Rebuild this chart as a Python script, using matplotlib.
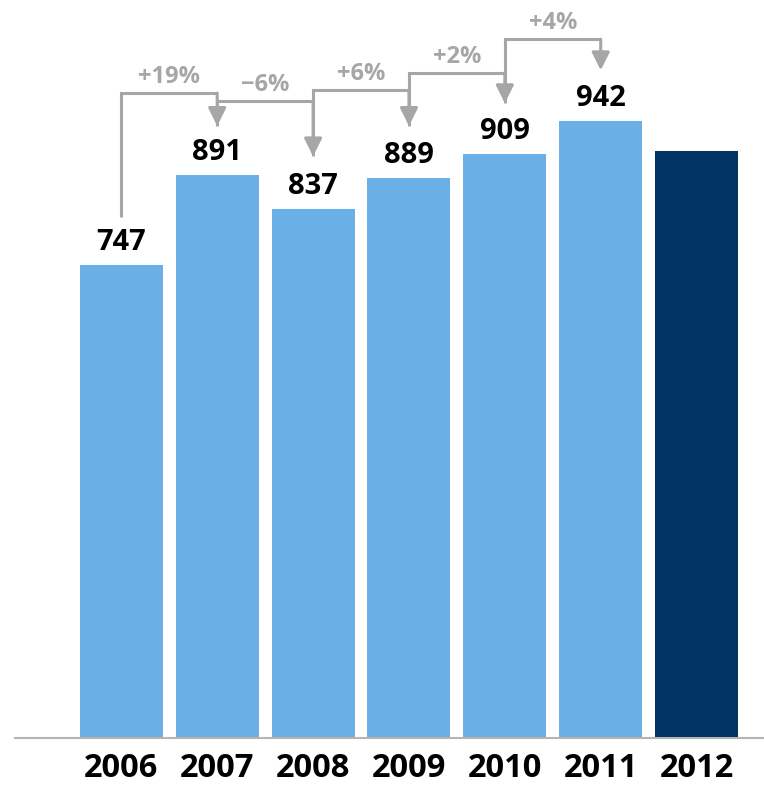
import numpy as np
import matplotlib.pyplot as plt

# data
years = ['2006', '2007', '2008', '2009', '2010', '2011', '2012']
value_labels = [747, 891, 837, 889, 909, 942, None]
# bar heights as drawn in the picture (not quite proportional to the labels)
bar_heights = [747, 889, 836, 885, 922, 975, 927]
bar_colors = ['#6AB0E6'] * 6 + ['#003462']

# connector layout (data units): horizontal level and arrow tip of each step
bracket_y = [1019, 1006, 1024, 1051, 1104]
tip_y = [967, 919, 967, 1003, 1055]
first_start = 823

gray = '#A6A6A6'
plt.rcParams['font.family'] = ['Open Sans', 'DejaVu Sans']

fig = plt.figure(figsize=(7.64, 7.85), dpi=100)
ax = fig.add_axes([15 / 764, 47 / 785, 749 / 764, 738 / 785])

x = np.arange(len(years))
ax.bar(x, bar_heights, width=0.865, color=bar_colors, zorder=2)

ax.set_xlim(-1.109, 6.703)
ax.set_ylim(0, 1166)

for s in ['top', 'left', 'right']:
    ax.spines[s].set_visible(False)
ax.spines['bottom'].set_color('#B4B4B4')
ax.spines['bottom'].set_linewidth(1.5)
ax.set_xticks([])
ax.set_yticks([])

# value labels
for i, v in enumerate(value_labels):
    if v is not None:
        ax.annotate(str(v), xy=(i, bar_heights[i]), xytext=(0, 15),
                    textcoords='offset pixels', ha='center', va='baseline',
                    fontsize=21, fontweight='bold', color='black')

# year labels
for i, y in enumerate(years):
    ax.annotate(y, xy=(i, 0), xytext=(0, -39), textcoords='offset pixels',
                ha='center', va='baseline', fontsize=23.5, fontweight='bold',
                color='black', annotation_clip=False)

# growth connectors
y_from = first_start
for i in range(len(bracket_y)):
    x0, x1 = x[i], x[i + 1]
    lvl = bracket_y[i]
    ax.plot([x0, x0, x1], [y_from, lvl, lvl], color=gray, lw=2.2,
            solid_joinstyle='miter', solid_capstyle='butt', zorder=3)
    ax.annotate('', xy=(x1, tip_y[i]), xytext=(x1, lvl),
                arrowprops=dict(arrowstyle='-|>,head_length=0.9,head_width=0.45',
                                color=gray, lw=2.2, shrinkA=0, shrinkB=0,
                                mutation_scale=12))
    pct = int(round((value_labels[i + 1] / value_labels[i] - 1) * 100))
    sign = '+' if pct >= 0 else '\u2212'
    ax.annotate(f'{sign}{abs(pct)}%', xy=((x0 + x1) / 2, lvl), xytext=(0, 10),
                textcoords='offset pixels', ha='center', va='baseline',
                fontsize=17, fontweight='bold', color=gray)
    y_from = tip_y[i]

fig.savefig('out.png', dpi=100)
